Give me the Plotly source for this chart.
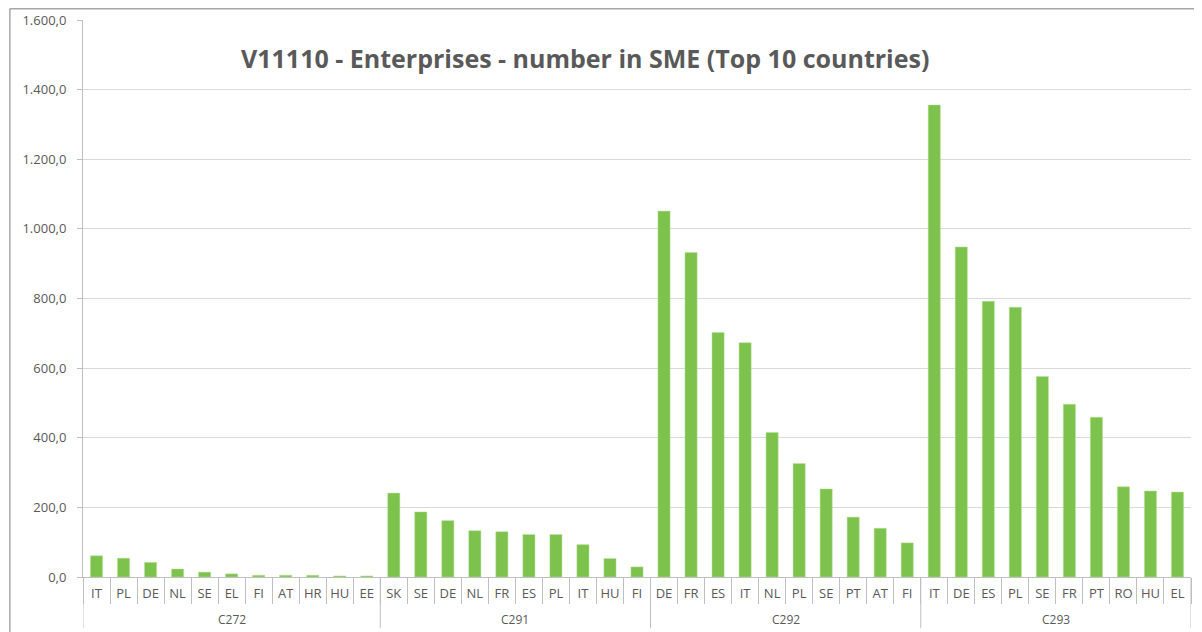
import plotly.graph_objects as go

groups = ['C272', 'C291', 'C292', 'C293']
countries = [
    ['IT', 'PL', 'DE', 'NL', 'SE', 'EL', 'FI', 'AT', 'HR', 'HU', 'EE'],
    ['SK', 'SE', 'DE', 'NL', 'FR', 'ES', 'PL', 'IT', 'HU', 'FI'],
    ['DE', 'FR', 'ES', 'IT', 'NL', 'PL', 'SE', 'PT', 'AT', 'FI'],
    ['IT', 'DE', 'ES', 'PL', 'SE', 'FR', 'PT', 'RO', 'HU', 'EL'],
]
values = [
    [61, 54, 42, 23, 14, 9, 5, 5, 5, 3, 3],
    [241, 187, 162, 133, 130, 122, 122, 93, 53, 29],
    [1051, 932, 702, 673, 415, 326, 253, 172, 140, 98],
    [1356, 948, 792, 775, 576, 496, 459, 259, 247, 244],
]

# flatten into one running position per bar
x_pos = []
x_lab = []
y_val = []
group_mid = []
group_edges = [-0.5]
i = 0
for g, cs, vs in zip(groups, countries, values):
    start = i
    for c, v in zip(cs, vs):
        x_pos.append(i)
        x_lab.append(c)
        y_val.append(v)
        i += 1
    group_mid.append((start + i - 1) / 2)
    group_edges.append(i - 0.5)

grey = '#595959'
line_grey = '#bfbfbf'

fig = go.Figure()
fig.add_trace(go.Bar(
    x=x_pos,
    y=y_val,
    marker=dict(color='#7dc24c', line=dict(color='#b9e39a', width=0.5)),
))

# page body has an 8px margin, so the figure is shifted by 8px
fig.update_layout(
    width=1194,
    height=624,
    margin=dict(l=75, r=11, t=12, b=55),
    paper_bgcolor='white',
    plot_bgcolor='white',
    bargap=0.55,
    showlegend=False,
    separators=',.',
    font=dict(family='Open Sans', color=grey, size=13),
)
fig.update_xaxes(
    range=[-0.5, len(x_pos) - 0.5],
    tickmode='array',
    tickvals=x_pos,
    ticktext=x_lab,
    tickangle=0,
    ticks='',
    ticklabelstandoff=4,
    minor=dict(tick0=-0.5, dtick=1, ticks='outside', ticklen=26, tickcolor=line_grey, showgrid=False),
    showline=True,
    linecolor=line_grey,
    showgrid=False,
    zeroline=False,
    tickfont=dict(size=13, color=grey),
    automargin=False,
)
fig.update_yaxes(
    range=[0, 1600],
    dtick=200,
    tickformat=',.1f',
    ticks='outside',
    ticklen=5,
    tickcolor=line_grey,
    showline=True,
    linecolor=line_grey,
    gridcolor='#d9d9d9',
    zeroline=False,
    tickfont=dict(size=13, color=grey),
    ticklabelstandoff=8,
    automargin=False,
)

# group labels and dividers under the country labels
for g, m in zip(groups, group_mid):
    fig.add_annotation(text=g, xref='x', yref='paper', x=m, y=-0.076, yanchor='middle',
                       showarrow=False, font=dict(size=12, color=grey))
for e in group_edges:
    fig.add_shape(type='line', xref='x', yref='paper', x0=e, x1=e, y0=0, y1=-0.092,
                  line=dict(color=line_grey, width=1))

fig.add_annotation(
    text='<b>V11110 - Enterprises - number in SME (Top 10 countries)</b>',
    xref='paper', yref='paper', x=0.453, y=0.932, yanchor='middle', xanchor='center',
    showarrow=False, font=dict(size=25, color=grey, family='Open Sans'),
)

# outer chart border (top and left edges visible)
fig.add_shape(type='line', xref='paper', yref='paper', x0=-0.066, x1=1.02, y0=1.02, y1=1.02,
              line=dict(color='#a6a6a6', width=1.5))
fig.add_shape(type='line', xref='paper', yref='paper', x0=-0.066, x1=-0.066, y0=-0.2, y1=1.02,
              line=dict(color='#a6a6a6', width=1.5))

fig.write_html('out.html')
